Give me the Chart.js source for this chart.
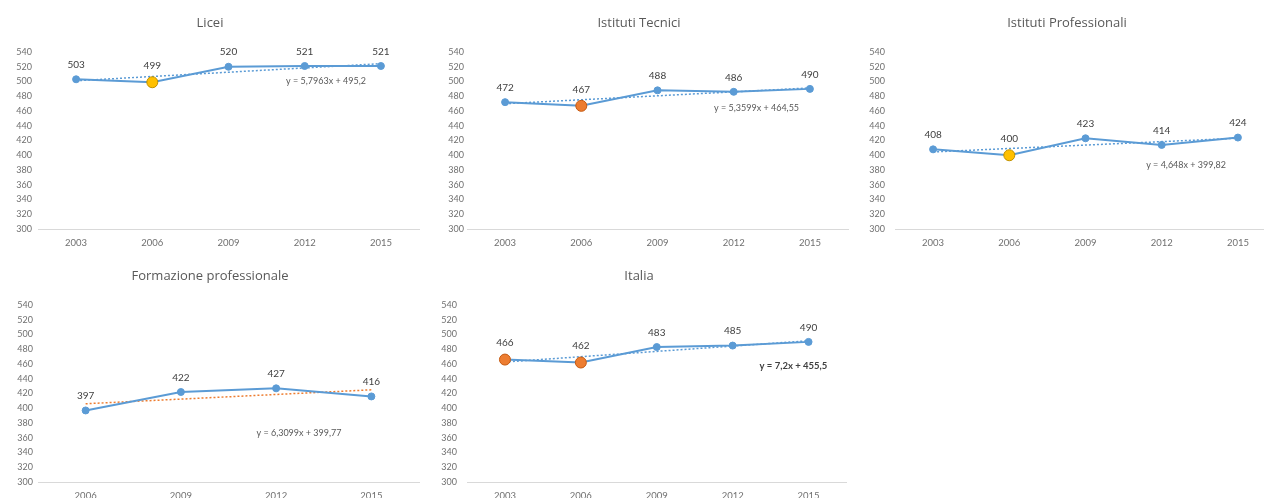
<!DOCTYPE html>
<html>
<head>
<meta charset="utf-8">
<script src="https://cdn.jsdelivr.net/npm/chart.js@4.4.0/dist/chart.umd.min.js"></script>
<style>
  html, body { margin: 0; padding: 0; background: #fff; overflow: hidden; }
  body { width: 1264px; height: 498px; position: relative; }
  .box { position: absolute; }
</style>
</head>
<body>
<div class="box" style="left:0px;top:0px"><canvas id="c1" width="424" height="254"></canvas></div>
<div class="box" style="left:429px;top:0px"><canvas id="c2" width="424" height="254"></canvas></div>
<div class="box" style="left:857px;top:0px"><canvas id="c3" width="424" height="254"></canvas></div>
<div class="box" style="left:0px;top:253px"><canvas id="c4" width="424" height="254"></canvas></div>
<div class="box" style="left:429px;top:253px"><canvas id="c5" width="424" height="254"></canvas></div>
<script>
// dati
const anni5 = ['2003', '2006', '2009', '2012', '2015'];
const anni4 = ['2006', '2009', '2012', '2015'];

const liceiValori = [503, 499, 520, 521, 521];
const tecniciValori = [472, 467, 488, 486, 490];
const professionaliValori = [408, 400, 423, 414, 424];
const formazioneValori = [397, 422, 427, 416];
const italiaValori = [466, 462, 483, 485, 490];

// linee di tendenza: solo primo e ultimo punto
const liceiTrend = [501.0, null, null, null, 524.2];
const tecniciTrend = [469.9, null, null, null, 491.3];
const professionaliTrend = [404.5, null, null, null, 423.1];
const formazioneTrend = [406.1, null, null, 425.0];
const italiaTrend = [462.7, null, null, null, 491.5];

const titoli = ['Licei', 'Istituti Tecnici', 'Istituti Professionali', 'Formazione professionale', 'Italia'];
const equazioni = ['y = 5,7963x + 495,2', 'y = 5,3599x + 464,55', 'y = 4,648x + 399,82', 'y = 6,3099x + 399,77', 'y = 7,2x + 455,5'];

const asseY = { min: 300, max: 540, step: 20 };

const BLU = '#5B9BD5';
const ARANCIO = '#ED7D31';
const GIALLO = '#FFC000';
const FONT = 'Lato, "Open Sans", sans-serif';
const FONT_TITOLO = '"Open Sans", sans-serif';

// etichette dei valori e equazione della tendenza
const etichettePlugin = {
  id: 'etichette',
  afterDatasetsDraw(chart, args, opts) {
    const ctx = chart.ctx;
    const meta = chart.getDatasetMeta(0);
    const valori = chart.data.datasets[0].data;
    ctx.save();
    ctx.fillStyle = '#404040';
    ctx.font = '10px ' + FONT;
    ctx.textAlign = 'center';
    ctx.textBaseline = 'middle';
    meta.data.forEach((pt, i) => {
      const r = pt.options.radius;
      ctx.fillText(valori[i], pt.x, pt.y - r - 11);
    });
    const x = chart.scales.x.getPixelForValue(opts.pos[0]);
    const y = chart.scales.y.getPixelForValue(opts.pos[1]);
    ctx.font = (opts.bold ? 'bold 9.5px ' : '9px ') + FONT;
    ctx.fillStyle = opts.bold ? '#404040' : '#595959';
    ctx.fillText(opts.testo, x, y);
    ctx.restore();
  }
};

function creaGrafico(id, titolo, anni, valori, trend, evidenziati, coloreTrend, eq, tickPad) {
  const colori = valori.map((v, i) => evidenziati[i] || BLU);
  const bordi = valori.map((v, i) => evidenziati[i] ? (evidenziati[i] === GIALLO ? '#BF9000' : '#C55A11') : BLU);
  const raggi = valori.map((v, i) => evidenziati[i] ? 5.5 : 3.5);

  new Chart(document.getElementById(id), {
    type: 'line',
    data: {
      labels: anni,
      datasets: [
        {
          data: valori,
          borderColor: BLU,
          borderWidth: 2,
          pointBackgroundColor: colori,
          pointBorderColor: bordi,
          pointBorderWidth: 1,
          pointRadius: raggi,
          tension: 0
        },
        {
          data: trend,
          borderColor: coloreTrend,
          borderWidth: 1.5,
          borderDash: [2, 2],
          pointRadius: 0,
          spanGaps: true
        }
      ]
    },
    options: {
      responsive: false,
      animation: false,
      layout: { padding: { left: 0, right: 4, top: 0, bottom: 0 } },
      plugins: {
        legend: { display: false },
        tooltip: { enabled: false },
        title: {
          display: true,
          text: titolo,
          color: '#595959',
          font: { family: FONT_TITOLO, size: 13, weight: 'normal', lineHeight: 1.2 },
          padding: { top: 15, bottom: 21.4 }
        },
        etichette: eq
      },
      scales: {
        x: {
          offset: true,
          grid: { display: false, drawTicks: false },
          border: { display: true, color: '#D9D9D9', width: 1 },
          ticks: { color: '#707070', font: { family: FONT, size: 9.5 }, padding: 8, maxRotation: 0 },
          afterFit: s => { s.height = 25; }
        },
        y: {
          min: asseY.min,
          max: asseY.max,
          grid: { display: false, drawTicks: false },
          border: { display: false },
          ticks: { stepSize: asseY.step, color: '#707070', font: { family: FONT, size: 9 }, padding: tickPad },
          afterFit: s => { s.width = 38; }
        }
      }
    },
    plugins: [etichettePlugin]
  });
}

creaGrafico('c1', titoli[0], anni5, liceiValori, liceiTrend, { 1: GIALLO }, BLU,
  { testo: equazioni[0], pos: [3.28, 501] }, 6);
creaGrafico('c2', titoli[1], anni5, tecniciValori, tecniciTrend, { 1: ARANCIO }, BLU,
  { testo: equazioni[1], pos: [3.3, 464] }, 3);
creaGrafico('c3', titoli[2], anni5, professionaliValori, professionaliTrend, { 1: GIALLO }, BLU,
  { testo: equazioni[2], pos: [3.32, 387] }, 10);
creaGrafico('c4', titoli[3], anni4, formazioneValori, formazioneTrend, {}, ARANCIO,
  { testo: equazioni[3], pos: [2.24, 366] }, 5);
creaGrafico('c5', titoli[4], anni5, italiaValori, italiaTrend, { 0: ARANCIO, 1: ARANCIO }, BLU,
  { testo: equazioni[4], pos: [3.8, 457], bold: true }, 10);
</script>
</body>
</html>
